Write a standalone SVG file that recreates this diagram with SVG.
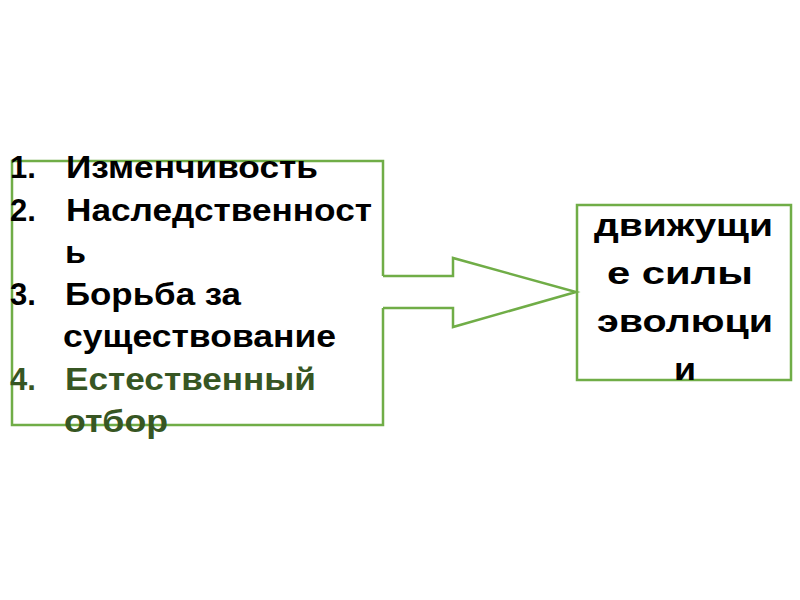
<svg xmlns="http://www.w3.org/2000/svg" width="800" height="600" viewBox="0 0 800 600">
<style>
.box{fill:none;stroke:#70AD47;stroke-width:2.5;stroke-linejoin:miter}
.t{font-family:"Liberation Sans",Arial,sans-serif;font-weight:bold;font-size:31px;fill:#000}
.g{fill:#375623}
.r{font-family:"Liberation Sans",Arial,sans-serif;font-weight:bold;font-size:32px;fill:#000}
</style>
<rect width="800" height="600" fill="#fff"/>
<g id="connectors">
<path class="box" d="M383,276 H453 V258 L576,292 L453,327 V308 H383"/>
</g>
<g id="left-node">
<path class="box" d="M383,276 V161 H12 V425 H383 V308"/>
<text class="t" x="10" y="178">1.</text>
<text class="t" x="66" y="178" textLength="252" lengthAdjust="spacingAndGlyphs">Изменчивость</text>
<text class="t" x="10" y="220.5">2.</text>
<text class="t" x="66" y="220.5" textLength="306" lengthAdjust="spacingAndGlyphs">Наследственност</text>
<text class="t" x="65" y="262.8" textLength="21" lengthAdjust="spacingAndGlyphs">ь</text>
<text class="t" x="10" y="305">3.</text>
<text class="t" x="65" y="305" textLength="176" lengthAdjust="spacingAndGlyphs">Борьба за</text>
<text class="t" x="63" y="347.3" textLength="273" lengthAdjust="spacingAndGlyphs">существование</text>
<text class="t g" x="10" y="389.6">4.</text>
<text class="t g" x="65" y="389.6" textLength="251" lengthAdjust="spacingAndGlyphs">Естественный</text>
<text class="t g" x="64" y="432" textLength="104" lengthAdjust="spacingAndGlyphs">отбор</text>
</g>
<g id="right-node">
<rect class="box" x="577" y="205" width="214" height="175"/>
<text class="r" x="594" y="236" textLength="179" lengthAdjust="spacingAndGlyphs">движущи</text>
<text class="r" x="607" y="284" textLength="146" lengthAdjust="spacingAndGlyphs">е силы</text>
<text class="r" x="597" y="332" textLength="176" lengthAdjust="spacingAndGlyphs">эволюци</text>
<text class="r" x="674" y="380" textLength="22" lengthAdjust="spacingAndGlyphs">и</text>
</g>
</svg>
